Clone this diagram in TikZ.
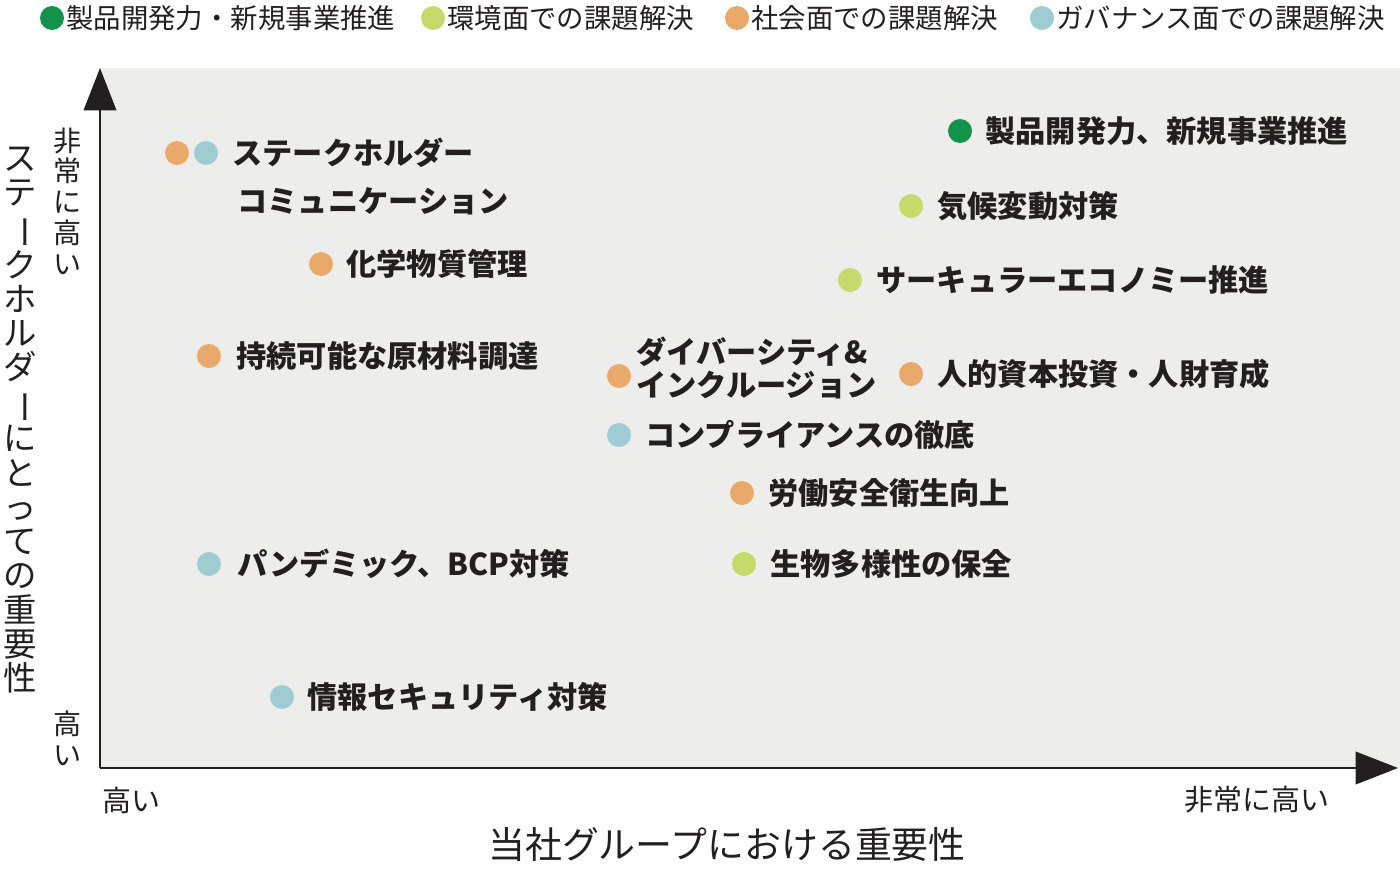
\documentclass[tikz,border=0pt]{standalone}
\usepackage{fontspec}
\setmainfont{Noto Sans CJK JP}
\usetikzlibrary{arrows.meta}
\definecolor{dgreen}{HTML}{13934A}
\definecolor{lgreen}{HTML}{C5DA6A}
\definecolor{orng}{HTML}{E8A96B}
\definecolor{blu}{HTML}{9FCBD2}
\definecolor{panel}{HTML}{EDEEEB}
\definecolor{ink}{HTML}{231F20}
\tikzset{
  dot/.style={circle,fill=#1,inner sep=0pt,minimum size=24*0.02cm},
  lbl/.style={anchor=west,inner sep=0pt,font=\fontsize{17.2}{19}\selectfont\bfseries,text=ink},
  leg/.style={anchor=west,inner sep=0pt,font=\fontsize{15.6}{18}\selectfont,text=ink},
  vtxt/.style={inner sep=0pt,align=center,text=ink}
}
\newcommand{\vbar}{\rotatebox[origin=c]{-90}{ー}}
\begin{document}
\begin{tikzpicture}[x=0.02cm,y=-0.02cm]
\useasboundingbox (0,0) rectangle (1400,872);
\fill[panel] (100,68) rectangle (1400,768);
% axes
\coordinate (o) at (100,768);
\coordinate (ytop) at (100,68);
\coordinate (xend) at (1398,768);
\draw[ink,line width=1.5pt,-{Triangle[width=0.65cm,length=0.85cm]}] (o) -- (ytop);
\draw[ink,line width=1.5pt,-{Triangle[width=0.65cm,length=0.85cm]}] (o) -- (xend);
% legend
\foreach \x/\c/\t in {52/dgreen/製品開発力・新規事業推進,433/lgreen/環境面での課題解決,737/orng/社会面での課題解決,1042/blu/ガバナンス面での課題解決}{
  \node[dot=\c] (l\x) at (\x,18) {};
  \node[leg] at (\x+14,18) {\t};
}
% axis texts
\node[vtxt,font=\fontsize{16}{17.5}\selectfont] (yhi) at (68,201) {非\\常\\に\\高\\い};
\node[vtxt,font=\fontsize{16}{17.5}\selectfont] (ylo) at (68,738) {高\\い};
\node[vtxt,font=\fontsize{19}{19.5}\selectfont] (ytitle) at (20,420)
  {ス\\テ\\\vbar\\ク\\ホ\\ル\\ダ\\\vbar\\に\\と\\っ\\て\\の\\重\\要\\性};
\node[leg,font=\fontsize{16.5}{19}\selectfont] (xlo) at (102,800) {高い};
\node[leg,font=\fontsize{16.5}{19}\selectfont,anchor=east] (xhi) at (1330,800) {非常に高い};
\node[inner sep=0pt,text=ink,font=\fontsize{21}{24}\selectfont] (xtitle) at (727,845) {当社グループにおける重要性};
% issues
\node[dot=orng] (a1) at (177,153) {};
\node[dot=blu] (a2) at (206,153) {};
\node[lbl] at (232,153) {ステークホルダー};
\node[lbl] at (237,201) {コミュニケーション};
\node[dot=orng] (b) at (321,264) {};
\node[lbl] at (346,264) {化学物質管理};
\node[dot=orng] (c) at (209,356) {};
\node[lbl] at (236,356) {持続可能な原材料調達};
\node[dot=blu] (d) at (209,564) {};
\node[lbl] at (237,564) {パンデミック、BCP対策};
\node[dot=blu] (e) at (282,697) {};
\node[lbl] at (307,697) {情報セキュリティ対策};
\node[dot=orng] (f) at (619,376) {};
\node[lbl] at (636,352) {ダイバーシティ\&};
\node[lbl] at (636,385) {インクルージョン};
\node[dot=blu] (g) at (619,435) {};
\node[lbl] at (645,435) {コンプライアンスの徹底};
\node[dot=orng] (h) at (742,493) {};
\node[lbl] at (768,493) {労働安全衛生向上};
\node[dot=lgreen] (i) at (744,564) {};
\node[lbl] at (770,564) {生物多様性の保全};
\node[dot=dgreen] (j) at (960,131) {};
\node[lbl] at (985,131) {製品開発力、新規事業推進};
\node[dot=lgreen] (k) at (911,206) {};
\node[lbl] at (937,206) {気候変動対策};
\node[dot=lgreen] (m) at (850,280) {};
\node[lbl] at (876,280) {サーキュラーエコノミー推進};
\node[dot=orng] (n) at (911,374) {};
\node[lbl] at (937,374) {人的資本投資・人財育成};
\end{tikzpicture}
\end{document}
